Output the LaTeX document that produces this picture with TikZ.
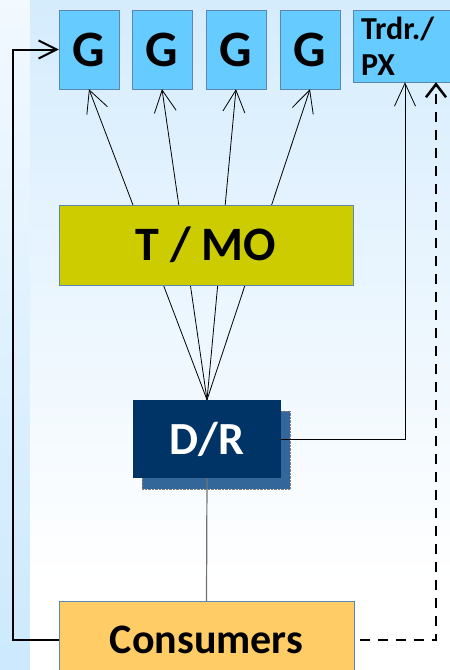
\documentclass[tikz,border=0pt]{standalone}
\usepackage{fontspec}
\setmainfont{Carlito}
\usepackage{tikz}
\usetikzlibrary{arrows,arrows.meta,positioning,shadows}
\definecolor{genblue}{HTML}{66CCFF}
\definecolor{boxedge}{HTML}{5B87B5}
\definecolor{tmoyellow}{HTML}{CCCC00}
\definecolor{drnavy}{HTML}{003366}
\definecolor{drshade}{HTML}{336699}
\definecolor{consorange}{HTML}{FFCC66}
\definecolor{bgtop}{HTML}{D5ECFD}
\definecolor{striptop}{HTML}{F2F9FF}
\definecolor{stripbot}{HTML}{CCE9FD}
\tikzset{box/.style={rectangle,draw=boxedge,inner sep=0pt,font=\bfseries}}
\tikzset{gbox/.style={box,fill=genblue,minimum width=60pt,minimum height=79pt,font=\fontsize{51}{51}\selectfont\bfseries}}
\tikzset{fanline/.style={-{Straight Barb[length=22pt,width=22pt]},line width=0.8pt}}

\begin{document}
\begin{tikzpicture}[x=1pt,y=-1pt]
\useasboundingbox (0,0) rectangle (450,670);
% backdrop
\shade[top color=striptop,bottom color=stripbot] (0,0) rectangle (30,670);
\shade[top color=bgtop,bottom color=white] (30,0) rectangle (450,580);
\fill[white] (30,580) rectangle (450,670);
%
\node (g1) [gbox] at (89,49.5) {G};
\node (g2) [gbox] at (162,49.5) {G};
\node (g3) [gbox] at (236,49.5) {G};
\node (g4) [gbox] at (310,49.5) {G};
\node (px) [box,fill=genblue,minimum width=104pt,minimum height=72pt,
  text width=88pt,align=left,font=\fontsize{32}{36}\selectfont\bfseries] at (405,46) {Trdr./\\PX};
\node (dr) [box,draw=none,fill=drnavy,text=white,minimum width=148pt,minimum height=78pt,
  font=\fontsize{46}{46}\selectfont\bfseries,
  drop shadow={shadow xshift=9pt,shadow yshift=-11pt,fill=drshade,opacity=1,draw=gray,densely dotted}] at (207,439) {D/R};
\node (cons) [box,fill=consorange,minimum width=295pt,minimum height=78pt,
  font=\fontsize{42}{42}\selectfont\bfseries] at (206.5,640) {Consumers};
%
\path[fanline] (dr.north) edge (g1.south);
\path[fanline] (dr.north) edge (g2.south);
\path[fanline] (dr.north) edge (g3.south);
\path[fanline] (dr.north) edge (g4.south);
\node (tmo) [box,fill=tmoyellow,minimum width=294pt,minimum height=80pt,
  font=\fontsize{48}{48}\selectfont\bfseries] at (206,245) {T / MO};
%
\draw[black!55,line width=1.2pt] (dr.south) -- (cons.north);
\draw[-{Straight Barb[length=23pt,width=21pt]},line width=0.8pt] (dr.east) -| (px.south);
\draw[-{Straight Barb[length=13pt,width=20pt]},line width=2.5pt,dash pattern=on 10pt off 8pt,
  shorten <=6pt] (cons.east) -| ([xshift=31pt]px.south);
\draw[-{Straight Barb[length=18pt,width=18pt]},line width=2pt] (cons.west) -- ++(-46,0) |- (g1.west);
\end{tikzpicture}
\end{document}
